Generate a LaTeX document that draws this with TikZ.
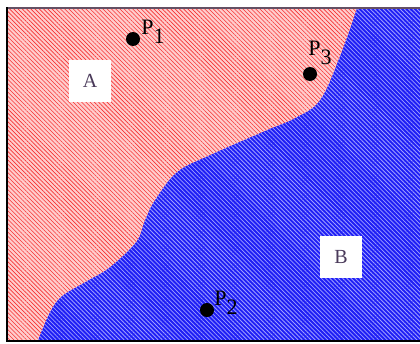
\documentclass[tikz,border=0pt]{standalone}
\usepackage{fontspec}
\setmainfont{Liberation Serif}
\usetikzlibrary{patterns.meta}
\definecolor{bbase}{RGB}{30,30,245}
\definecolor{bstripe}{RGB}{160,160,255}
\definecolor{pbase}{RGB}{255,205,205}
\definecolor{pstripe}{RGB}{245,50,50}
\definecolor{lettercol}{RGB}{74,58,90}
\definecolor{topline}{RGB}{100,80,100}
\tikzset{
  dot/.style={circle,fill=black,inner sep=0pt,minimum size=14pt},
  plabel/.style={font=\fontsize{22}{24}\selectfont,inner sep=0pt},
  regionlabel/.style={fill=white,minimum width=42pt,minimum height=42pt,inner sep=0pt,
     text=lettercol,font=\fontsize{20}{22}\selectfont},
}
\begin{document}
\begin{tikzpicture}[x=1pt,y=-1pt]
\useasboundingbox (0,0) rectangle (420,343);
% blue region (whole frame first)
\fill[bbase] (7,8) rectangle (420,340);
\fill[pattern={Lines[angle=-45,distance=3pt,line width=0.8pt]},pattern color=bstripe] (7,8) rectangle (420,340);
% pink region
\def\pinkpath{(7,8) -- (357,8) -- plot[smooth,tension=0.6] coordinates {(357,8) (340,56) (320,100) (295,118) (267,130) (210,155) (177,172) (155,200) (145,220) (136,242) (110,267) (87,281) (62,296) (50,312) (38,340)} -- (7,340) -- cycle}
\fill[pbase] \pinkpath;
\fill[pattern={Lines[angle=-45,distance=3pt,line width=0.6pt]},pattern color=pstripe] \pinkpath;
% frame
\draw[topline,line width=2pt] (6,7.5) -- (420,7.5);
\draw[black,line width=2pt] (7,7) -- (7,341);
\draw[black,line width=2pt] (6,340.5) -- (420,340.5);
% labels
\node[regionlabel] (A) at (90,81) {A};
\node[regionlabel] (B) at (341,257) {B};
\node[dot] (p1) at (133,39) {};
\node[dot] (p3) at (310,74) {};
\node[dot] (p2) at (207,310) {};
\node[plabel] (l1) at (153,32) {P\raisebox{-0.42em}{1}};
\node[plabel] (l3) at (320,53) {P\raisebox{-0.42em}{3}};
\node[plabel] (l2) at (226,303) {P\raisebox{-0.42em}{2}};
\end{tikzpicture}
\end{document}
